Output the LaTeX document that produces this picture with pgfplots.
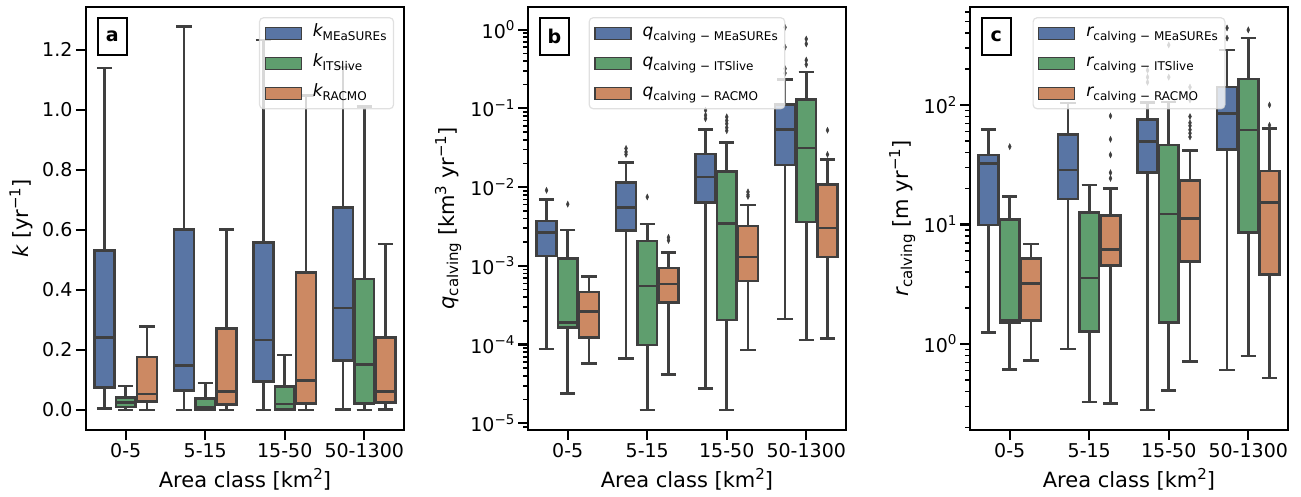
\documentclass[border=0pt]{standalone}
\usepackage{fontspec}
\setmainfont{DejaVu Sans}
\usepackage{pgfplots}
\pgfplotsset{compat=1.18}
\usepgfplotslibrary{statistics}

\definecolor{cblue}{RGB}{89,117,164}
\definecolor{cgreen}{RGB}{95,158,110}
\definecolor{corange}{RGB}{204,137,99}
\definecolor{edgec}{RGB}{63,63,63}

% font sizes (1pt ~ 1px of the reference)
\newcommand\fl{\fontsize{21}{25}\selectfont}
\newcommand\ft{\fontsize{19}{22}\selectfont}
\newcommand\fg{\fontsize{17}{20}\selectfont}
\newcommand\lsup[1]{\raisebox{8pt}{\fontsize{15}{15}\selectfont #1}}
\newcommand\tsup[1]{\raisebox{7.5pt}{\fontsize{13.5}{13.5}\selectfont #1}}
\newcommand\lsub[1]{\raisebox{-4pt}{\fontsize{15}{15}\selectfont #1}}
\newcommand\gsub[1]{\raisebox{-3.5pt}{\fontsize{12}{12}\selectfont #1}}

\pgfplotsset{
  boxst/.style={draw=edgec, line width=2.6pt, forget plot,
    mark=diamond*, mark size=3pt,
    mark options={fill=edgec, draw=edgec, line width=0.4pt, xscale=0.65},
    boxplot/draw direction=y,
    boxplot/box extend=0.25, boxplot/whisker extend=0.19},
  outst/.style={only marks, forget plot, mark=diamond*, mark size=3pt,
    mark options={fill=edgec, draw=edgec, line width=0.4pt, xscale=0.65}},
  legpatch/.style={legend image code/.code={
    \draw[sharp corners, fill=#1, fill opacity=1, draw opacity=1, draw=edgec, line width=1.3pt]
      (0pt,-6pt) rectangle (36pt,6pt);}},
  panel/.style={
    scale only axis, width=318pt, height=423pt, anchor=south west,
    xmin=-0.5, xmax=3.5, xtick={0,1,2,3},
    xticklabels={0-5,5-15,15-50,50-1300},
    tick align=outside, tick pos=left,
    axis line style={line width=2.5pt, black},
    major tick length=10pt, minor tick length=5pt,
    major tick style={line width=2.2pt, black},
    minor tick style={line width=1.6pt, black},
    tick label style={font=\ft},
    label style={font=\fl},
    xlabel={Area class [km\lsup{2}]},
    xlabel style={at={(axis description cs:0.5,-0.137)}, anchor=base},
    legend cell align=left,
    legend style={fill=white, fill opacity=0.8, draw opacity=0.8, text opacity=1,
      draw=black!15, line width=1.2pt, rounded corners=4pt,
      inner xsep=5pt, inner ysep=4pt, row sep=7pt, font=\fg,
      /tikz/every odd column/.append style={column sep=9pt},
      nodes={inner ysep=2pt, text height=13pt, text depth=6pt}},
  },
}

% linear box: colour, position, lw, lq, median, uq, uw
\newcommand\bp[7]{%
  \addplot[boxst, fill=#1, boxplot prepared={draw position=#2,
    lower whisker=#3, lower quartile=#4, median=#5,
    upper quartile=#6, upper whisker=#7}] coordinates {};}

% log box: same values, drawn at log10 height; #8 = outliers (x,value)
\newcommand\bpl[8]{%
  \begingroup
  \pgfkeys{/pgf/fpu=true,/pgf/fpu/output format=fixed}%
  \pgfmathsetmacro\vA{ln(#3)/ln(10)}%
  \pgfmathsetmacro\vB{ln(#4)/ln(10)}%
  \pgfmathsetmacro\vC{ln(#5)/ln(10)}%
  \pgfmathsetmacro\vD{ln(#6)/ln(10)}%
  \pgfmathsetmacro\vE{ln(#7)/ln(10)}%
  \xdef\tmpbox{\noexpand\addplot[boxst, fill=#1, boxplot prepared={draw position=#2,
    lower whisker=\vA, lower quartile=\vB, median=\vC,
    upper quartile=\vD, upper whisker=\vE}] coordinates {};}%
  \endgroup
  \tmpbox
  \def\tmpo{#8}%
  \ifx\tmpo\empty\else
  \addplot[outst, y filter/.expression={ln(y)/ln(10)}] coordinates {#8};
  \fi}

\newcommand\letter[1]{%
  \node[draw=black, fill=white, line width=1.6pt, minimum width=29pt,
    minimum height=37pt, inner sep=0pt, anchor=north west,
    font=\fontsize{19}{19}\selectfont\bfseries, xshift=11pt, yshift=-10pt]
    at (rel axis cs:0,1) {#1};}

\begin{document}
\begin{tikzpicture}
\useasboundingbox (0,0) rectangle (1301pt,497pt);

% ---------------- a
\begin{axis}[panel, at={(86pt,67pt)},
  ymin=-0.067, ymax=1.343,
  ytick={0,0.2,0.4,0.6,0.8,1.0,1.2},
  yticklabels={0.0,0.2,0.4,0.6,0.8,1.0,1.2},
  ylabel={{\itshape k} [yr\lsup{−1}]},
  ylabel style={at={(axis description cs:-0.204,0.5)}, anchor=center},
  legend style={at={(axis description cs:0.969,0.976)}, anchor=north east}]
\bp{cblue}{-0.267}{0.005}{0.074}{0.242}{0.531}{1.139}
\bp{cgreen}{0}{0.0}{0.009}{0.024}{0.042}{0.080}
\bp{corange}{0.267}{0.0}{0.028}{0.053}{0.176}{0.278}
\bp{cblue}{0.733}{0.0}{0.064}{0.147}{0.602}{1.278}
\bp{cgreen}{1}{0.0}{0.002}{0.009}{0.037}{0.089}
\bp{corange}{1.267}{0.0}{0.017}{0.061}{0.271}{0.602}
\bp{cblue}{1.733}{0.0}{0.094}{0.233}{0.558}{1.233}
\bp{cgreen}{2}{0.0}{0.002}{0.019}{0.078}{0.183}
\bp{corange}{2.267}{0.0}{0.022}{0.098}{0.458}{1.048}
\bp{cblue}{2.733}{0.002}{0.164}{0.339}{0.674}{1.143}
\bp{cgreen}{3}{0.0}{0.022}{0.152}{0.436}{1.011}
\bp{corange}{3.267}{0.002}{0.024}{0.061}{0.242}{0.553}
\addlegendimage{legpatch=cblue}
\addlegendentry{{\itshape k}\gsub{MEaSUREs}}
\addlegendimage{legpatch=cgreen}
\addlegendentry{{\itshape k}\gsub{ITSlive}}
\addlegendimage{legpatch=corange}
\addlegendentry{{\itshape k}\gsub{RACMO}}
\letter{a}
\end{axis}

% ---------------- b  (log10 scale)
\begin{axis}[panel, at={(528pt,67pt)},
  ymin=-5.085, ymax=0.288,
  ytick={-5,-4,-3,-2,-1,0},
  yticklabels={10\tsup{−5},10\tsup{−4},10\tsup{−3},10\tsup{−2},10\tsup{−1},10\tsup{0}},
  minor ytick={-5.04576,
    -4.69897,-4.52288,-4.39794,-4.30103,-4.22185,-4.15490,-4.09691,-4.04576,
    -3.69897,-3.52288,-3.39794,-3.30103,-3.22185,-3.15490,-3.09691,-3.04576,
    -2.69897,-2.52288,-2.39794,-2.30103,-2.22185,-2.15490,-2.09691,-2.04576,
    -1.69897,-1.52288,-1.39794,-1.30103,-1.22185,-1.15490,-1.09691,-1.04576,
    -0.69897,-0.52288,-0.39794,-0.30103,-0.22185,-0.15490,-0.09691,-0.04576},
  ylabel={{\itshape q}\lsub{calving} [km\lsup{3} yr\lsup{−1}]},
  ylabel style={at={(axis description cs:-0.251,0.5)}, anchor=center},
  legend style={at={(axis description cs:0.5,0.976)}, anchor=north}]
\bpl{cblue}{-0.267}{8.8e-5}{1.34e-3}{2.63e-3}{3.73e-3}{6.97e-3}{(-0.267,9.1e-3)}
\bpl{cgreen}{0}{2.4e-5}{1.65e-4}{1.9e-4}{1.24e-3}{2.84e-3}{(0,6.07e-3)}
\bpl{corange}{0.267}{5.78e-5}{1.23e-4}{2.61e-4}{4.64e-4}{7.27e-4}{}
\bpl{cblue}{0.733}{6.7e-5}{2.79e-3}{5.51e-3}{1.14e-2}{2.05e-2}{(0.733,0.026) (0.733,0.028) (0.733,0.031)}
\bpl{cgreen}{1}{1.48e-5}{9.9e-5}{5.53e-4}{2.08e-3}{3.39e-3}{(1,7.5e-3)}
\bpl{corange}{1.267}{4.19e-5}{3.4e-4}{5.86e-4}{9.44e-4}{1.48e-3}{(1.267,2.1e-3) (1.267,2.3e-3)}
\bpl{cblue}{1.733}{2.78e-5}{6.38e-3}{1.35e-2}{2.62e-2}{5.43e-2}{(1.733,0.074) (1.733,0.082) (1.733,0.095)}
\bpl{cgreen}{2}{1.48e-5}{2.05e-4}{3.45e-3}{1.59e-2}{3.68e-2}{(2,0.052) (2,0.057) (2,0.064) (2,0.07) (2,0.078)}
\bpl{corange}{2.267}{8.5e-5}{6.4e-4}{1.30e-3}{3.19e-3}{5.9e-3}{(2.267,7.6e-3) (2.267,8.0e-3) (2.267,8.7e-3)}
\bpl{cblue}{2.733}{2.11e-4}{1.90e-2}{5.38e-2}{0.112}{0.234}{(2.733,0.28) (2.733,0.32) (2.733,0.6) (2.733,1.07)}
\bpl{cgreen}{3}{1.14e-4}{3.62e-3}{3.15e-2}{0.129}{0.29}{(3,0.36) (3,0.41) (3,0.66) (3,0.76)}
\bpl{corange}{3.267}{1.2e-4}{1.30e-3}{3.04e-3}{1.08e-2}{2.24e-2}{(3.267,0.026) (3.267,0.0528)}
\addlegendimage{legpatch=cblue}
\addlegendentry{{\itshape q}\gsub{calving − MEaSUREs}}
\addlegendimage{legpatch=cgreen}
\addlegendentry{{\itshape q}\gsub{calving − ITSlive}}
\addlegendimage{legpatch=corange}
\addlegendentry{{\itshape q}\gsub{calving − RACMO}}
\letter{b}
\end{axis}

% ---------------- c  (log10 scale)
\begin{axis}[panel, at={(970pt,67pt)},
  ymin=-0.7212, ymax=2.8203,
  ytick={0,1,2},
  yticklabels={10\tsup{0},10\tsup{1},10\tsup{2}},
  minor ytick={-0.69897,-0.52288,-0.39794,-0.30103,-0.22185,-0.15490,-0.09691,-0.04576,
    0.30103,0.47712,0.60206,0.69897,0.77815,0.84510,0.90309,0.95424,
    1.30103,1.47712,1.60206,1.69897,1.77815,1.84510,1.90309,1.95424,
    2.30103,2.47712,2.60206,2.69897,2.77815},
  ylabel={{\itshape r}\lsub{calving} [m yr\lsup{−1}]},
  ylabel style={at={(axis description cs:-0.213,0.5)}, anchor=center},
  legend style={at={(axis description cs:0.5,0.976)}, anchor=north}]
\bpl{cblue}{-0.267}{1.25}{9.85}{32.5}{38.2}{62.5}{}
\bpl{cgreen}{0}{0.61}{1.51}{1.59}{11.0}{17.1}{(0,44.8)}
\bpl{corange}{0.267}{0.726}{1.56}{3.22}{5.21}{6.87}{}
\bpl{cblue}{0.733}{0.908}{16.3}{28.6}{56.9}{104}{}
\bpl{cgreen}{1}{0.325}{1.27}{3.55}{12.6}{21.4}{}
\bpl{corange}{1.267}{0.315}{4.53}{6.2}{11.9}{19.9}{(1.267,24.3) (1.267,27.1) (1.267,38.2) (1.267,51.6) (1.267,80.9)}
\bpl{cblue}{1.733}{0.28}{27.2}{49.3}{75.9}{105}{(1.733,155) (1.733,171) (1.733,195)}
\bpl{cgreen}{2}{0.406}{1.51}{12.2}{46.2}{106}{(2,171) (2,318)}
\bpl{corange}{2.267}{0.71}{4.89}{11.2}{23.4}{41.5}{(2.267,54) (2.267,58) (2.267,62) (2.267,67) (2.267,71) (2.267,80) (2.267,110) (2.267,141)}
\bpl{cblue}{2.733}{0.605}{42.6}{85.1}{141}{288}{(2.733,363) (2.733,441)}
\bpl{cgreen}{3}{0.79}{8.55}{61.8}{165}{363}{(3,425)}
\bpl{corange}{3.267}{0.516}{3.83}{15.3}{28.1}{63.8}{(3.267,67.6) (3.267,100)}
\addlegendimage{legpatch=cblue}
\addlegendentry{{\itshape r}\gsub{calving − MEaSUREs}}
\addlegendimage{legpatch=cgreen}
\addlegendentry{{\itshape r}\gsub{calving − ITSlive}}
\addlegendimage{legpatch=corange}
\addlegendentry{{\itshape r}\gsub{calving − RACMO}}
\letter{c}
\end{axis}
\end{tikzpicture}
\end{document}
